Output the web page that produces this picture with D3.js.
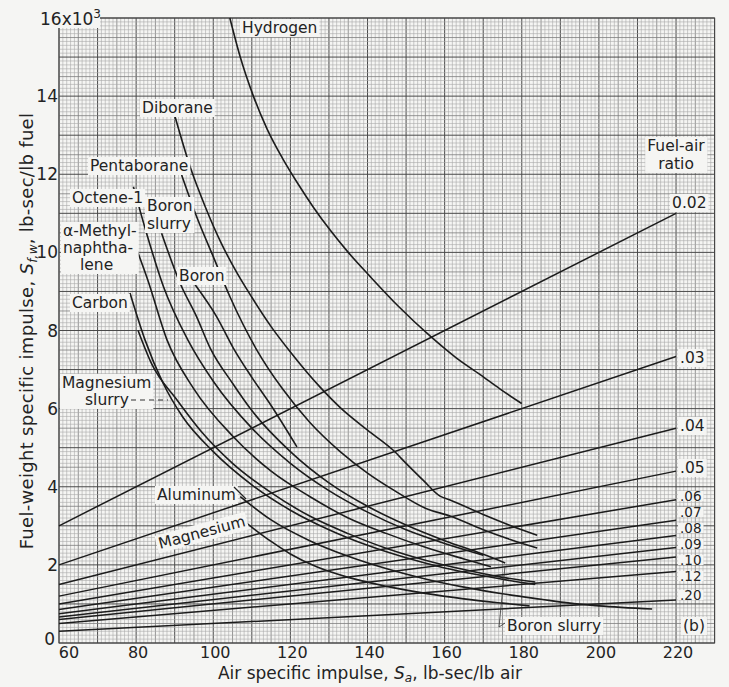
<!DOCTYPE html>
<html><head><meta charset="utf-8">
<script src="https://cdn.jsdelivr.net/npm/d3@7"></script>
<style>
body{margin:0;background:#f5f5f3;}
svg{display:block;}
text{font-family:"DejaVu Sans",sans-serif;fill:#232323;}
</style></head><body>
<svg id="c" width="729" height="687"></svg>
<script>
// ---------- data ----------
const xTicks=[60,80,100,120,140,160,180,200,220];
const yTicks=[0,2000,4000,6000,8000,10000,12000,14000];
const yTickLabels=["0","2","4","6","8","10","12","14"];
const fuelAirRatios=[0.02,0.03,0.04,0.05,0.06,0.07,0.08,0.09,0.10,0.12,0.20];
const ratioLabels=["0.02",".03",".04",".05",".06",".07",".08",".09",".10",".12",".20"];
const ratioSaStart=[60,60,60,60,60,60,60,60,60,60,60];
const ratioSaEnd=[220,220,220,220,220,220,220,220,220,220,220];
const ratioSfStart=[3000,2000,1500,1200,1000,857,750,667,600,500,300];
const ratioSfEnd=[11000,7333,5500,4400,3667,3143,2750,2444,2200,1833,1100];

const hydrogen=[[104.3,16000],[107,15000],[110.4,14000],[114,13150],[118,12400],[122,11750],[126,11150],[130.3,10570],[135,10000],[140.7,9380],[148,8620],[156.2,7860],[163,7300],[169.2,6870],[174.4,6500],[180,6130]];
const diborane=[[90.1,13470],[94,12190],[98,11150],[102,10250],[106,9500],[110,8850],[115,8100],[120,7450],[127.7,6550],[133,6020],[140,5450],[146.6,4940],[150,4600],[154.4,4170],[158.8,3760],[161.4,3660],[170,3290],[177,3010],[184,2760]];
const pentaborane=[[91.8,11980],[95.7,10910],[100,9890],[104.3,8870],[111.3,7500],[118,6500],[125,5650],[132.9,4900],[140,4350],[147,3900],[155,3450],[161.4,3250],[170,2900],[177,2650],[184,2430]];
const boronSlurry=[[86.6,10490],[91.4,9210],[95.7,8350],[99.2,7550],[105,6650],[110,5950],[120,4900],[130,4100],[140,3500],[150,3020],[160,2620],[170,2270],[175.7,2050]];
const boron=[[95.3,9170],[100.9,8350],[105.2,7550],[110,6800],[115,6080],[121.7,5020]];
const octene=[[79.3,11680],[82.7,10490],[87.1,9120],[93.4,7760],[100,6700],[110,5500],[120,4600],[130,3900],[140,3350],[150,2900],[160,2550],[170,2250]];
const methylnaphthalene=[[79.3,10300],[83,9300],[88,7760],[95,6500],[105,5300],[115,4400],[125,3750],[135,3200],[145,2800],[155,2450],[165,2150],[172,1950]];
const carbon=[[78.4,8960],[82.3,7760],[87,6650],[92,5800],[100,4900],[110,4050],[120,3400],[130,2900],[140,2500],[150,2180],[160,1920],[170,1720],[180,1550],[183.5,1500]];
const magnesiumSlurry=[[80.5,8000],[84,7150],[90.6,6220],[97,5400],[105,4600],[115,3850],[125,3250],[135,2800],[145,2420],[155,2120],[165,1880],[175,1680],[183.5,1560]];
const aluminum=[[107,3750],[115,3150],[125,2620],[135,2220],[145,1900],[155,1640],[165,1430],[175,1260],[185,1120],[192.5,1020],[200,950],[213.8,870]];
const magnesium=[[108.2,3100],[115,2600],[120,2280],[126.8,1950],[135,1680],[145,1450],[155,1270],[165,1130],[175,1020],[182,950]];

// ---------- drawing ----------
const svg=d3.select('#c');
const x=d3.scaleLinear().domain([60,230]).range([59,714.6]);
const y=d3.scaleLinear().domain([0,16000]).range([643,18]);

// grid
const grid=svg.append('g');
d3.range(60,231,1).forEach(v=>{
  const major=v%10===0, mid=v%5===0;
  grid.append('line').attr('x1',x(v)).attr('x2',x(v)).attr('y1',y(0)).attr('y2',y(16000))
    .attr('stroke',major?'#4a4a4a':mid?'#7d7d7d':'#a9a9a9').attr('stroke-width',major?1:mid?0.8:0.6);
});
d3.range(0,16001,100).forEach(v=>{
  const major=v%1000===0, mid=v%500===0;
  grid.append('line').attr('x1',x(60)).attr('x2',x(230)).attr('y1',y(v)).attr('y2',y(v))
    .attr('stroke',major?'#4a4a4a':mid?'#7d7d7d':'#a9a9a9').attr('stroke-width',major?1:mid?0.8:0.6);
});
svg.append('rect').attr('x',x(60)).attr('y',y(16000)).attr('width',x(230)-x(60)).attr('height',y(0)-y(16000))
  .attr('fill','none').attr('stroke','#444').attr('stroke-width',1);

// fuel-air ratio lines
const lineGen=d3.line().x(d=>x(d[0])).y(d=>y(d[1]));
const plot=svg.append('g');
fuelAirRatios.forEach((f,i)=>{
  plot.append('path').datum([[ratioSaStart[i],ratioSfStart[i]],[ratioSaEnd[i],ratioSfEnd[i]]])
    .attr('d',lineGen).attr('fill','none').attr('stroke','#1c1c1c').attr('stroke-width',1.5);
});
// fuel curves
const curveGen=d3.line().x(d=>x(d[0])).y(d=>y(d[1])).curve(d3.curveMonotoneX);
[hydrogen,diborane,pentaborane,boronSlurry,boron,octene,methylnaphthalene,carbon,magnesiumSlurry,aluminum,magnesium].forEach(c=>{
  plot.append('path').datum(c).attr('d',curveGen).attr('fill','none').attr('stroke','#1c1c1c').attr('stroke-width',1.6);
});

// labels with background boxes
const BG='#f5f5f3';
function label(px,py,lines,opts={}){
  const fs=opts.fs||15.5, lh=opts.lh||18, anchor=opts.anchor||'start';
  const g=svg.append('g');
  if(opts.rot) g.attr('transform',`rotate(${opts.rot},${px},${py})`);
  const t=g.append('text').attr('x',px).attr('y',py).attr('font-size',fs).attr('text-anchor',anchor);
  lines.forEach((s,k)=>{
    const ts=t.append('tspan').attr('x',px).attr('dy',k===0?0:lh).text(s);
    if(opts.anchors&&opts.anchors[k]) ts.attr('x',px+opts.anchors[k]);
  });
  const b=t.node().getBBox();
  const shrink=opts.tight?3:0;
  g.insert('rect','text').attr('x',b.x-2).attr('y',b.y+shrink).attr('width',b.width+4).attr('height',b.height-2*shrink)
    .attr('fill',BG);
  return g;
}

// axis tick labels
xTicks.forEach(v=>{
  svg.append('text').attr('x',x(v)+(v===60?10:2)).attr('y',658).attr('font-size',16)
    .attr('text-anchor','middle').text(v);
});
yTicks.forEach((v,i)=>{
  svg.append('text').attr('x',v===0?55:58).attr('y',y(v)-(v===0?4:0)).attr('dy','0.36em').attr('font-size',17)
    .attr('text-anchor','end').text(yTickLabels[i]);
});
// 16x10^3 label with box
{
  const g=svg.append('g');
  const t=g.append('text').attr('x',40).attr('y',25).attr('font-size',17);
  t.append('tspan').text('16x10');
  t.append('tspan').attr('dy',-7).attr('font-size',12).text('3');
  g.insert('rect','text').attr('x',38).attr('y',8).attr('width',62).attr('height',20).attr('fill',BG);
}

// axis titles
{
  const t=svg.append('text').attr('x',370).attr('y',679).attr('font-size',17).attr('text-anchor','middle');
  t.append('tspan').text('Air specific impulse, ');
  t.append('tspan').attr('font-style','italic').text('S');
  t.append('tspan').attr('font-style','italic').attr('font-size',12).attr('dy',3).text('a');
  t.append('tspan').attr('dy',-3).text(',  lb-sec/lb air');
}
{
  const t=svg.append('text').attr('transform','translate(33,331) rotate(-90)').attr('font-size',18)
    .attr('letter-spacing',0.3).attr('text-anchor','middle');
  t.append('tspan').text('Fuel-weight specific impulse, ');
  t.append('tspan').attr('font-style','italic').text('S');
  t.append('tspan').attr('font-style','italic').attr('font-size',12).attr('dy',4).text('f,w');
  t.append('tspan').attr('dy',-4).text(',  lb-sec/lb fuel');
}

// curve labels
label(242,33,['Hydrogen']);
label(142,113,['Diborane']);
label(90,171,['Pentaborane']);
label(72,203,['Octene-1']);
label(147,211,['Boron','slurry']);
label(63,236,['α-Methyl-','naphtha-','lene'],{lh:17,anchors:[0,0,17]});
label(179,281,['Boron']);
label(72,308,['Carbon']);
label(62,388,['Magnesium','slurry'],{lh:17,anchors:[0,23]});
svg.append('line').attr('x1',131).attr('x2',168).attr('y1',400).attr('y2',400)
  .attr('stroke','#333').attr('stroke-width',1.2).attr('stroke-dasharray','5,4');
label(157,500,['Aluminum']);
svg.append('line').attr('x1',234).attr('y1',487).attr('x2',246).attr('y2',499).attr('stroke','#222').attr('stroke-width',1.2);
label(160,549,['Magnesium'],{rot:-15});
label(507,631,['Boron slurry']);
svg.append('line').attr('x1',499).attr('y1',627).attr('x2',505).attr('y2',566).attr('stroke','#333').attr('stroke-width',0.8);
svg.append('line').attr('x1',499).attr('y1',627).attr('x2',505).attr('y2',623).attr('stroke','#333').attr('stroke-width',0.8);
label(683,631,['(b)']);
label(676,151,['Fuel-air','ratio'],{anchor:'middle',lh:18});

// ratio labels (text baselines, px)
const ratioBase=[208,363,431,473,501,517,533,549,565,581,600];
ratioLabels.forEach((s,i)=>{
  const small=i>=4;
  label(x(ratioSaEnd[i])+(i===0?-4:4), ratioBase[i], [s], {fs:small?13.5:15.5, tight:small});
});
</script>
</body></html>
